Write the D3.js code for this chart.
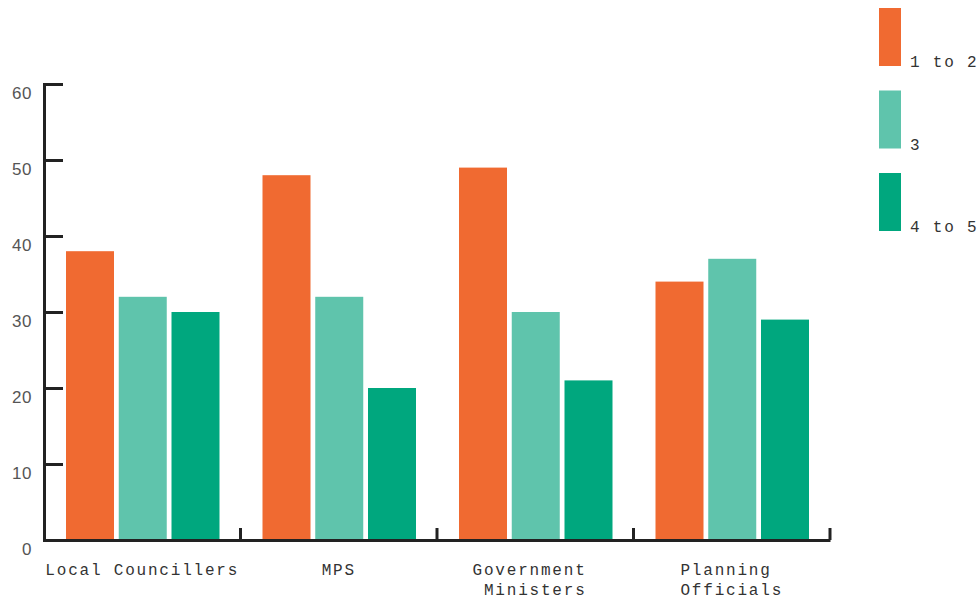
<!DOCTYPE html>
<html>
<head>
<meta charset="utf-8">
<script src="https://cdnjs.cloudflare.com/ajax/libs/d3/7.8.5/d3.min.js"></script>
<style>
    body { margin: 0; background: #ffffff; }
    text { font-family: "Liberation Mono", "DejaVu Sans Mono", monospace; }
</style>
</head>
<body>
<div id="chart"></div>
<script>
// data
var categories = [["Local Councillers"], ["MPS"], ["Government ", "Ministers"], ["Planning ", "Officials"]];
var seriesNames = ["1 to 2", "3", "4 to 5"];
var seriesColors = ["#F06A31", "#5FC4AC", "#00A77E"];
var values1to2 = [38, 48, 49, 34];
var values3 = [32, 32, 30, 37];
var values4to5 = [30, 20, 21, 29];
var yTicks = [0, 10, 20, 30, 40, 50, 60];

var data = categories.map(function (c, i) {
    return { key: c.join(""), lines: c, vals: [values1to2[i], values3[i], values4to5[i]] };
});

var margin = { top: 84, right: 150, bottom: 60, left: 44 };
var width = 980 - margin.left - margin.right;
var height = 600 - margin.top - margin.bottom;

var svg = d3.select("#chart").append("svg")
    .attr("width", 980)
    .attr("height", 600);

var g = svg.append("g")
    .attr("transform", "translate(" + margin.left + "," + margin.top + ")");

var x = d3.scaleBand()
    .domain(data.map(function (d) { return d.key; }))
    .range([0, width])
    .paddingInner(0)
    .paddingOuter(0);

var x1 = d3.scaleBand()
    .domain(d3.range(seriesNames.length))
    .range([22, x.bandwidth() - 21])
    .paddingInner(0.09);

var y = d3.scaleLinear()
    .domain([0, 60])
    .range([height, 0]);

// bars
var groups = g.selectAll(".grp")
    .data(data)
    .enter().append("g")
    .attr("class", "grp")
    .attr("transform", function (d) { return "translate(" + x(d.key) + ",0)"; });

groups.selectAll("rect")
    .data(function (d) { return d.vals; })
    .enter().append("rect")
    .attr("x", function (d, i) { return x1(i); })
    .attr("y", function (d) { return y(d); })
    .attr("width", x1.bandwidth())
    .attr("height", function (d) { return height - y(d); })
    .attr("fill", function (d, i) { return seriesColors[i]; });

// y axis
var yAxis = g.append("g")
    .attr("class", "y-axis")
    .call(d3.axisLeft(y).tickValues(yTicks).tickSize(-19).tickPadding(12));

yAxis.select(".domain").attr("stroke", "#222").attr("stroke-width", 3);
yAxis.selectAll(".tick line").attr("stroke", "#222").attr("stroke-width", 3);
yAxis.selectAll(".tick text")
    .attr("dy", "14")
    .attr("fill", "#555")
    .style("font-size", "17px")
    .style("letter-spacing", "0.5px")
    .style("font-family", "'Liberation Sans', Arial, sans-serif");

// x axis
var xAxis = g.append("g")
    .attr("class", "x-axis")
    .attr("transform", "translate(0," + height + ")")
    .call(d3.axisBottom(x).tickSize(0).tickFormat(""));

xAxis.select(".domain").attr("stroke", "#222").attr("stroke-width", 3);

xAxis.selectAll(".bnd")
    .data(data)
    .enter().append("line")
    .attr("class", "bnd")
    .attr("x1", function (d) { return x(d.key) + x.bandwidth(); })
    .attr("x2", function (d) { return x(d.key) + x.bandwidth(); })
    .attr("y1", 0)
    .attr("y2", -12)
    .attr("stroke", "#222")
    .attr("stroke-width", 3);

xAxis.selectAll(".tick").each(function (d) {
    var lines = data.filter(function (e) { return e.key === d; })[0].lines;
    var t = d3.select(this).append("text")
        .attr("fill", "#333")
        .attr("text-anchor", "middle")
        .style("font-size", "16px")
        .style("letter-spacing", "1.8px")
        .style("white-space", "pre");
    lines.forEach(function (l, i) {
        t.append("tspan")
            .attr("x", 0)
            .attr("y", 35 + i * 20)
            .text(l);
    });
});

// legend
var legend = svg.append("g")
    .attr("transform", "translate(879,8)");

var ly = d3.scalePoint()
    .domain(seriesNames)
    .range([0, 165]);

var item = legend.selectAll(".leg")
    .data(seriesNames)
    .enter().append("g")
    .attr("class", "leg")
    .attr("transform", function (d) { return "translate(0," + ly(d) + ")"; });

item.append("rect")
    .attr("width", 22)
    .attr("height", 58)
    .attr("fill", function (d, i) { return seriesColors[i]; });

item.append("text")
    .attr("x", 31)
    .attr("y", 59)
    .attr("fill", "#333")
    .style("font-size", "16px")
    .style("letter-spacing", "1.8px")
    .text(function (d) { return d; });
</script>
</body>
</html>
